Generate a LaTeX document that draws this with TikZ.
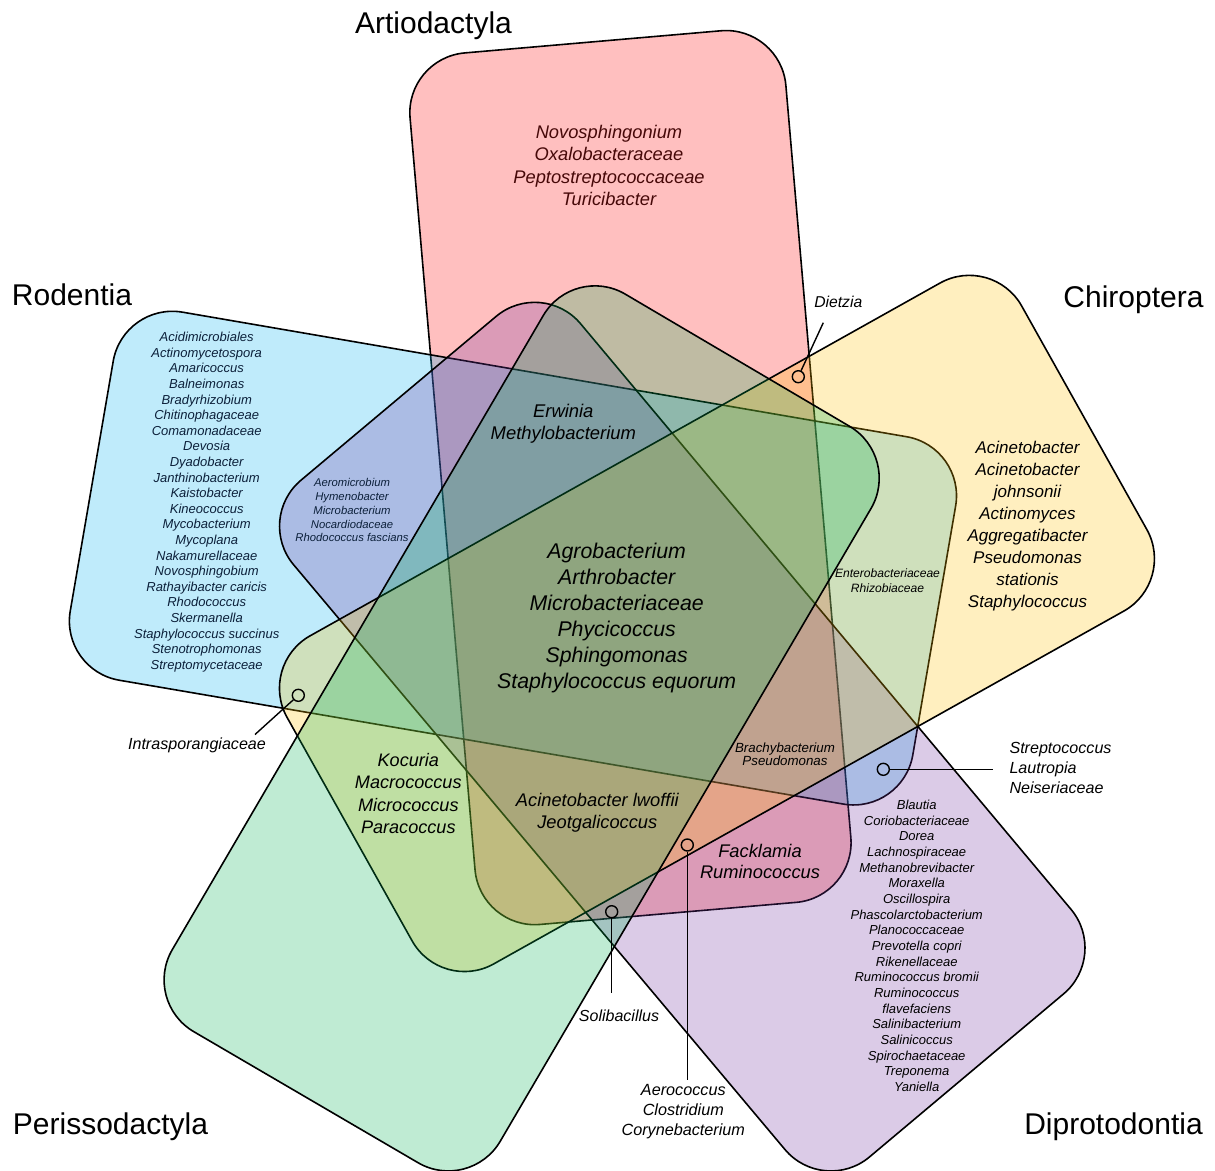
\documentclass[tikz,border=0pt]{standalone}
\usepackage{fontspec}
\setmainfont{Liberation Sans}
\usetikzlibrary{calc}
\definecolor{cRed}{RGB}{255,0,0}
\definecolor{cBlue}{RGB}{0,176,240}
\definecolor{cGold}{RGB}{255,192,0}
\definecolor{cGreen}{RGB}{0,176,80}
\definecolor{cPurple}{RGB}{112,48,160}
\definecolor{txRed}{RGB}{70,8,8}
\definecolor{txBlue}{RGB}{12,32,58}
\begin{document}
\begin{tikzpicture}[x=1pt,y=-1pt,
  shp/.style={draw=black, line width=1.6pt, rounded corners=60pt, fill opacity=0.25},
  lst/.style={align=center, inner sep=0pt, text=black},
  setlabel/.style={font=\fontsize{30}{36}\selectfont, anchor=base, inner sep=0pt},
  ring/.style={circle, draw=black, line width=1.4pt, minimum size=12pt, inner sep=0pt},
  lead/.style={line width=1.4pt}]
\fill[white] (0,0) rectangle (1215,1170);
\useasboundingbox (0,0) rectangle (1215,1170);

% ---------- the five sets ----------
\coordinate (rA) at (404.9,58.1);  \coordinate (rB) at (780.7,25.6);
\coordinate (rC) at (856,897.2);   \coordinate (rD) at (480.2,929.6);
\coordinate (bA) at (123.4,302);   \coordinate (bB) at (965.8,446.9);
\coordinate (bC) at (902.6,814.2); \coordinate (bD) at (60.1,670.1);
\coordinate (pA) at (542.1,277.8); \coordinate (pB) at (1109.5,955.3);
\coordinate (pC) at (823.6,1195.5);\coordinate (pD) at (255,518.8);
\coordinate (yA) at (992.4,253.7); \coordinate (yB) at (1176.1,581.8);
\coordinate (yC) at (441.4,993.2); \coordinate (yD) at (257.8,665.1);
\coordinate (gA) at (573.6,263.7); \coordinate (gB) at (901.3,456.8);
\coordinate (gC) at (469.9,1193);  \coordinate (gD) at (142,1001.4);

\path[shp, fill=cRed] ($(rA)!0.5!(rB)$) -- (rB) -- (rC) -- (rD) -- (rA) -- cycle;
\path[shp, fill=cBlue] ($(bA)!0.5!(bB)$) -- (bB) -- (bC) -- (bD) -- (bA) -- cycle;
\path[shp, fill=cPurple] ($(pA)!0.5!(pB)$) -- (pB) -- (pC) -- (pD) -- (pA) -- cycle;
\path[shp, fill=cGold] ($(yA)!0.5!(yB)$) -- (yB) -- (yC) -- (yD) -- (yA) -- cycle;
\path[shp, fill=cGreen] ($(gA)!0.5!(gB)$) -- (gB) -- (gC) -- (gD) -- (gA) -- cycle;

% ---------- set labels ----------
\node[setlabel] (lArt) at (433.5,33) {Artiodactyla};
\node[setlabel] (lRod) at (72,305) {Rodentia};
\node[setlabel] (lChi) at (1133.5,307) {Chiroptera};
\node[setlabel] (lPer) at (110.5,1134) {Perissodactyla};
\node[setlabel] (lDip) at (1113.5,1134) {Diprotodontia};

% ---------- region texts ----------
\node[lst, text=txRed, font=\fontsize{18.3}{22.3}\selectfont\itshape] (tRed) at (609,165.5)
  {Novosphingonium\\Oxalobacteraceae\\Peptostreptococcaceae\\Turicibacter};
\node[lst, text=txBlue, font=\fontsize{13}{15.6}\selectfont\itshape] (tBlue) at (206.7,502.2)
  {Acidimicrobiales\\Actinomycetospora\\Amaricoccus\\Balneimonas\\Bradyrhizobium\\Chitinophagaceae\\Comamonadaceae\\Devosia\\Dyadobacter\\Janthinobacterium\\Kaistobacter\\Kineococcus\\Mycobacterium\\Mycoplana\\Nakamurellaceae\\Novosphingobium\\Rathayibacter caricis\\Rhodococcus\\Skermanella\\Staphylococcus succinus\\Stenotrophomonas\\Streptomycetaceae};
\node[lst, text=txBlue, font=\fontsize{11.3}{13.8}\selectfont\itshape] (tBP) at (352,510.3)
  {Aeromicrobium\\Hymenobacter\\Microbacterium\\Nocardiodaceae\\Rhodococcus fascians};
\node[lst, font=\fontsize{18.4}{22.3}\selectfont\itshape] (tErw) at (563.3,423.8)
  {Erwinia\\Methylobacterium};
\node[lst, font=\fontsize{21.3}{26}\selectfont\itshape] (tAll) at (616.7,618.3)
  {Agrobacterium\\Arthrobacter\\Microbacteriaceae\\Phycicoccus\\Sphingomonas\\Staphylococcus equorum};
\node[lst, font=\fontsize{12.1}{15}\selectfont\itshape] (tEnt) at (887.5,580.2)
  {Enterobacteriaceae\\Rhizobiaceae};
\node[lst, font=\fontsize{17}{22}\selectfont\itshape] (tChi) at (1027.5,526.3)
  {Acinetobacter\\Acinetobacter\\johnsonii\\Actinomyces\\Aggregatibacter\\Pseudomonas\\stationis\\Staphylococcus};
\node[lst, font=\fontsize{18.1}{22.3}\selectfont\itshape] (tKoc) at (408.3,793.5)
  {Kocuria\\Macrococcus\\Micrococcus\\Paracoccus};
\node[lst, font=\fontsize{18.3}{21.7}\selectfont\itshape] (tAci) at (597.3,812.5)
  {Acinetobacter lwoffii\\Jeotgalicoccus};
\node[lst, font=\fontsize{13.3}{13.5}\selectfont\itshape] (tBra) at (785,754.2)
  {Brachybacterium\\Pseudomonas};
\node[lst, font=\fontsize{18.3}{21.3}\selectfont\itshape] (tFac) at (760,861.7)
  {Facklamia\\Ruminococcus};
\node[lst, font=\fontsize{13}{15.65}\selectfont\itshape] (tDip) at (916.7,945.8)
  {Blautia\\Coriobacteriaceae\\Dorea\\Lachnospiraceae\\Methanobrevibacter\\Moraxella\\Oscillospira\\Phascolarctobacterium\\Planococcaceae\\Prevotella copri\\Rikenellaceae\\Ruminococcus bromii\\Ruminococcus\\flavefaciens\\Salinibacterium\\Salinicoccus\\Spirochaetaceae\\Treponema\\Yaniella};

% ---------- call-outs ----------
\node[lst, align=left, anchor=west, font=\fontsize{16.1}{20}\selectfont\itshape] (tStr) at (1009.3,768.3)
  {Streptococcus\\Lautropia\\Neiseriaceae};
\node[lst, font=\fontsize{16}{20}\selectfont\itshape] (tSol) at (619,1015.7) {Solibacillus};
\node[lst, font=\fontsize{16.2}{20}\selectfont\itshape] (tAer) at (683.3,1111.7)
  {Aerococcus\\Clostridium\\Corynebacterium};
\node[lst, font=\fontsize{15.7}{20}\selectfont\itshape] (tDie) at (838.3,301.7) {Dietzia};
\node[lst, font=\fontsize{16.1}{20}\selectfont\itshape] (tInt) at (197,745) {Intrasporangiaceae};

\node[ring] (cDie) at (798.3,376.7) {};
\node[ring] (cInt) at (298.3,695.3) {};
\node[ring] (cSol) at (611.7,911.7) {};
\node[ring] (cAer) at (687.3,845) {};
\node[ring] (cStr) at (883.3,769.3) {};
\coordinate (eDie) at (823.3,322.7);
\coordinate (eInt) at (255,734.5);
\coordinate (eSol) at (611.7,993.3);
\coordinate (eAer) at (687.3,1080);
\coordinate (eStr) at (993.3,769.3);
\draw[lead] (cDie) -- (eDie);
\draw[lead] (cInt) -- (eInt);
\draw[lead] (cSol) -- (eSol);
\draw[lead] (cAer) -- (eAer);
\draw[lead] (cStr) -- (eStr);
\end{tikzpicture}
\end{document}
